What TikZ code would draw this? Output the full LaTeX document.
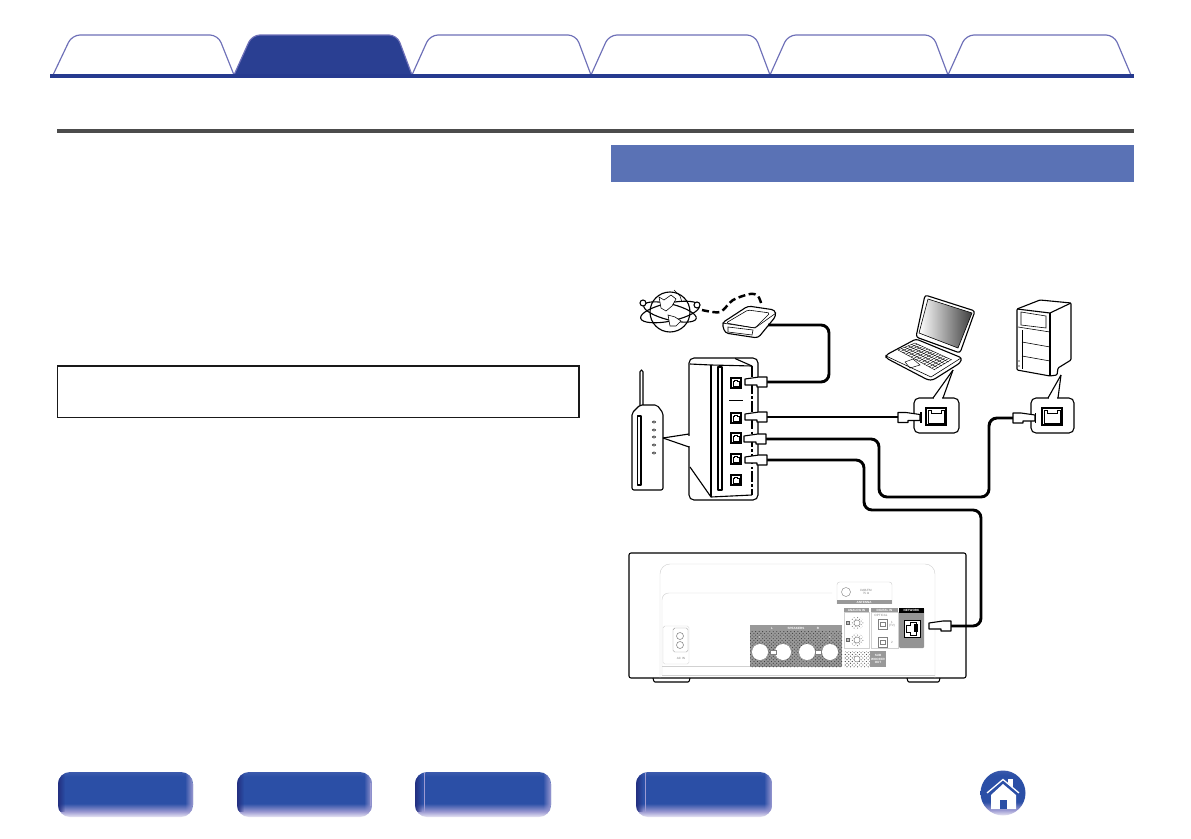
\documentclass[tikz,border=0pt]{standalone}
\usepackage{fontspec}
\setmainfont{Liberation Sans}
\usetikzlibrary{calc,patterns,fadings}
\definecolor{tabline}{HTML}{6E70B8}
\definecolor{tabblue}{HTML}{2A3F92}
\definecolor{barblue}{HTML}{263A8F}
\definecolor{sectionblue}{HTML}{5A72B5}
\definecolor{pillblue}{HTML}{2B4FA6}
\definecolor{pilldark}{HTML}{232F80}
\definecolor{pillpale}{HTML}{E9E6F4}
\definecolor{pilledge}{HTML}{9C9AD2}
\pgfdeclareverticalshading{pillshade}{100bp}{
  color(0bp)=(pillpale); color(25bp)=(pillpale); color(31bp)=(pilledge); color(40bp)=(pillblue); color(70bp)=(pillblue); color(75bp)=(pillblue!85!pilledge); color(100bp)=(pillblue!85!pilledge)}
\tikzset{
  tabshape/.style={draw=tabline, line width=1pt, line join=round},
  netcable/.style={line width=2.5pt, rounded corners=2.4mm},
  outline/.style={line width=0.95pt, line join=round},
  rearline/.style={draw=black!18, line width=0.4pt},
  rearlabel/.style={font=\fontsize{2.6pt}{2.9pt}\selectfont\bfseries, text=white, inner sep=0pt, align=center},
  reargrey/.style={font=\fontsize{2.6pt}{2.9pt}\selectfont, text=black!50, inner sep=0pt, align=center},
  speakerdots/.style={pattern=crosshatch dots, pattern color=black!75}
}
% plug with its cable end on the right at (x,y)
\def\netplug(#1,#2){\draw[outline, fill=white, shift={(#1,#2)}] (-22,-3) -- (-8,-5) -- (0,-5) -- (0,5) -- (-10,5) -- (-10,3) -- (-22,3) -- cycle;}
% same plug, cable end on the left
\def\netplugleft(#1,#2){\draw[outline, fill=white, shift={(#1,#2)}] (22,-3) -- (8,-5) -- (0,-5) -- (0,5) -- (10,5) -- (10,3) -- (22,3) -- cycle;}
% small socket of the router
\def\routerport(#1,#2){\draw[line width=1.1pt] (#1-5,#2-5) rectangle (#1+5,#2+5);
  \draw[line width=0.3pt] (#1-3.3,#2+3.3) -- (#1-3.3,#2-1.5) -- (#1-1.5,#2-1.5) -- (#1-1.5,#2-3.3) -- (#1+1.5,#2-3.3) -- (#1+1.5,#2-1.5) -- (#1+3.3,#2-1.5) -- (#1+3.3,#2+3.3) -- cycle;}
% big socket inside a callout
\def\bigjack(#1,#2){\draw[line width=0.9pt, fill=white] (#1,#2) rectangle (#1+20,#2+17);
  \draw[line width=0.5pt] (#1+2,#2+15) -- (#1+2,#2+2) -- (#1+5,#2+2) -- (#1+5,#2+5) -- (#1+15,#2+5) -- (#1+15,#2+2) -- (#1+18,#2+2) -- (#1+18,#2+15) -- cycle;}
% bottom button
\def\pillbutton(#1,#2){\begin{scope}
    \path[clip, rounded corners=3.6mm] (#1,772) rectangle (#2,817);
    \shade[shading=pillshade] (#1,772) rectangle (#2,817);
    \fill[pilldark, path fading=east] (#1,772) rectangle (#1+7,812);
    \fill[pilledge, path fading=west] (#2-8,772) rectangle (#2,812);
  \end{scope}}

\begin{document}
\begin{tikzpicture}[x=0.03cm,y=-0.03cm]
	%%%%% PAGE %%%%%
	\useasboundingbox (0,0) rectangle (1191,839);
	\fill[white] (0,0) rectangle (1191,839);

	\draw[tabshape] (53,75) [rounded corners=2.4mm] -- (72,35) -- (218,35) [sharp corners] -- (234,75);
	\draw[tabshape, fill=tabblue] (234,75) [rounded corners=2.4mm] -- (252,35) -- (397,35) [sharp corners] -- (412,75);
	\draw[tabshape] (412,75) [rounded corners=2.4mm] -- (430,35) -- (576,35) [sharp corners] -- (591,75);
	\draw[tabshape] (591,75) [rounded corners=2.4mm] -- (609,35) -- (755,35) [sharp corners] -- (770,75);
	\draw[tabshape] (770,75) [rounded corners=2.4mm] -- (788,35) -- (933,35) [sharp corners] -- (948,75);
	\draw[tabshape] (948,75) [rounded corners=2.4mm] -- (966,35) -- (1114,35) [sharp corners] -- (1131,75);
	\fill[barblue] (50,74) rectangle (1134,78);

	\fill[black!70] (57,129) rectangle (1134,133);
	\fill[sectionblue] (611,145) rectangle (1134,182);

	\draw[line width=0.8pt, black!90] (57.5,366) rectangle (579,417);
	\fill[black!90] (57,365) rectangle (580,366.5);
	\fill[black!90] (578,365) rectangle (580,417);

	%%%%% BUTTONS %%%%%
	\pillbutton(58,193)
	\pillbutton(237,372)
	\pillbutton(415,551)
	\pillbutton(636,772)
	\draw[pilledge, line width=0.4pt] (370,783) -- (370,806);
	\draw[pilledge, line width=0.4pt] (424,773) -- (424,812);
	\draw[pilledge, line width=0.4pt] (645,773) -- (645,812);

	\shade[shading=pillshade] (1003,793) circle (22.5);
	\fill[white] (1008,779) rectangle (1013,787);
	\draw[pillblue, line width=2.4pt] (985,796) -- (1003,781) -- (1021,796);
	\draw[white, line width=1.1pt] (987,793) -- (1003,779.5) -- (1019,793);
	\fill[white] (1003,784) -- (1016,795) -- (1016,809) -- (991,809) -- (991,795) -- cycle;
	\fill[pillblue] (1000,800) rectangle (1007,809);

	%%%%% INTERNET AND MODEM %%%%%
	\draw[outline] (670,312) circle (20);
	\draw[outline, rotate around={12:(670,312)}] (670,312) ellipse (30 and 9);
	\draw[outline, rotate around={-14:(670,312)}] (670,312) ellipse (27 and 8);
	\draw[outline, fill=white] (643,303) circle (3);
	\draw[outline, fill=white] (697,305) circle (3);
	\draw[line width=0.5pt, fill=white] (659,297) -- (664,300) -- (671,295) -- (676,299) -- (672,306) -- (666,311) -- (661,308) -- cycle;
	\draw[line width=0.5pt, fill=white] (668,315) -- (675,317) -- (681,321) -- (676,326) -- (670,326) -- cycle;
	\draw[line width=0.5pt] (674,290) -- (680,296) -- (682,302);

	\draw[line width=2.1pt, dash pattern=on 6pt off 3pt] plot[smooth] coordinates {(702,310) (720,312) (733,300) (750,294) (758,296) (762,306)};
	\draw[outline, fill=white, rounded corners=1mm] (722,323) -- (748,306) -- (775,310) -- (776,316) -- (758,338) -- (725,333) -- cycle;
	\draw[line width=0.5pt, rounded corners=0.5mm] (726,323) -- (748,310) -- (770,313) -- (755,328) -- cycle;
	\draw[line width=0.5pt] (728,327) -- (753,330) -- (752,335) -- (728,332) -- cycle;
	\draw[line width=0.5pt] (722,323) -- (755,328) -- (776,313);
	\coordinate (modemport) at (768,325);

	%%%%% ROUTER %%%%%
	\draw[outline, fill=white, rounded corners=0.5mm] (640,408) -- (640,370) -- (643,370) -- (643,408);
	\draw[outline, fill=white, rounded corners=0.6mm] (632,490) -- (632,413) -- (640,405) -- (657,405) -- (663,413) -- (663,490) -- cycle;
	\draw[outline] (637.5,416) rectangle (641,485);
	\foreach \ledy in {422,430,437,445,453}
		\draw[line width=0.4pt, fill=black!15] (654,\ledy) ellipse (1.8 and 1.2);

	\draw[outline, fill=white, rounded corners=1.5mm] (689,358) rectangle (758,500);
	\fill[white] (687.5,436) rectangle (691,446);
	\draw[outline] (663,438) -- (689,434);
	\draw[outline] (663,438) -- (689,447);
	\draw[outline] (690,364) -- (711,365) -- (752,366);
	\draw[outline] (735,358.5) -- (752,366);
	\draw[outline] (711,365) -- (711,497);
	\draw[outline] (690,467) -- (711,497) -- (752,495);
	\draw[outline] (718,367) rectangle (722,490);
	\draw[line width=0.6pt] (729,400) -- (743,400);
	\draw[outline, dash pattern=on 9pt off 2pt on 2pt off 2pt] (752,366) -- (752,495);
	\routerport(736,383)
	\routerport(736,418)
	\routerport(736,438)
	\routerport(736,459)
	\routerport(736,480)

	%%%%% LAPTOP %%%%%
	\draw[outline, fill=white, rounded corners=0.8mm] (925,295) -- (975,311) -- (960,353) -- (916,337) -- cycle;
	\shade[left color=white, right color=black!75] (928,299) -- (972,313) -- (958,348) -- (919,333) -- cycle;
	\draw[line width=0.5pt] (928,299) -- (972,313) -- (958,348) -- (919,333) -- cycle;
	\draw[outline, fill=white, rounded corners=0.8mm] (916,339) -- (962,358) -- (960,363) -- (933,380) -- (928,380) -- (886,358) -- (886,355) -- cycle;
	\draw[line width=0.5pt] (886,356) -- (931,377) -- (961,358);
	\coordinate (keya) at (898,350);
	\coordinate (keyb) at (915,343);
	\coordinate (keyc) at (952,360);
	\coordinate (keyd) at (935,370);
	\foreach \keyt in {0,0.07,...,1.01}
		\draw[line width=0.35pt] ($(keya)!\keyt!(keyd)$) -- ($(keyb)!\keyt!(keyc)$);
	\foreach \keyt in {0,0.2,...,1.01}
		\draw[line width=0.35pt] ($(keya)!\keyt!(keyb)$) -- ($(keyd)!\keyt!(keyc)$);
	\draw[line width=0.4pt] (905,362) -- (913,359) -- (920,365) -- (910,368) -- cycle;

	\draw[outline, fill=white, rounded corners=1.5mm] (914,398) rectangle (959,433);
	\fill[white] (934,396) rectangle (942,400);
	\draw[outline] (953,370) -- (933,398);
	\draw[outline] (953,370) -- (943,398);
	\bigjack(926,408)

	%%%%% NAS %%%%%
	\draw[outline, fill=white, rounded corners=0.3mm] (1017,309) -- (1040,300) -- (1071,303) -- (1071,360) -- (1058,368) -- (1057,375) -- (1050,376) -- (1017,370) -- cycle;
	\draw[outline] (1017,309) -- (1050,313) -- (1071,303);
	\draw[outline] (1050,313) -- (1050,376);
	\draw[line width=0.5pt] (1021,312) -- (1046,316) -- (1046,328) -- (1021,325) -- cycle;
	\draw[line width=0.5pt] (1018,327) -- (1050,332);
	\draw[line width=0.5pt] (1022,330) -- (1022,369);
	\draw[line width=0.5pt] (1022,342) -- (1050,347);
	\draw[line width=0.5pt] (1022,356) -- (1050,361);
	\fill[black!60] (1019,361) circle (0.8);
	\fill[black!60] (1019,366) circle (0.8);

	\draw[outline, fill=white, rounded corners=1.5mm] (1031,398) rectangle (1074,433);
	\fill[white] (1049,396) rectangle (1057,400);
	\draw[outline] (1061,375) -- (1048,398);
	\draw[outline] (1061,375) -- (1058,398);
	\bigjack(1042,408)

	%%%%% REAR PANEL %%%%%
	\draw[line width=0.9pt, fill=white, rounded corners=0.6mm] (629,553) rectangle (966,678);
	\draw[line width=0.9pt, rounded corners=0.3mm] (653,678) -- (654,682) -- (689,682) -- (690,678);
	\draw[line width=0.9pt, rounded corners=0.3mm] (907,678) -- (908,682) -- (939,682) -- (940,678);

	\draw[rearline, rounded corners=3mm] (660,678) -- (660,564) -- (935,564) -- (935,678);
	\draw[rearline, rounded corners=2mm] (662,675) -- (662,593) -- (832,593);
	\draw[rearline] (662,666) -- (750,666);
	\draw[rearline] (662,675) -- (935,675);

	\draw[rearline, rounded corners=0.5mm] (663,626) rectangle (689,664);
	\draw[rearline, draw=black!40, rounded corners=0.5mm] (673,628) rectangle (688,652);
	\draw[draw=black!45, line width=0.5pt] (680,636) circle (3.5);
	\draw[draw=black!45, line width=0.5pt] (680,645) circle (3.5);
	\node[reargrey] (acin) at (681,658) {AC IN};

	\fill[black!40] (750,625) rectangle (842,667);
	\fill[white, speakerdots] (750,631) rectangle (842,667);
	\fill[black!40] (750,625) rectangle (842,631);
	\node[rearlabel] (speakerslabel) at (796,628) {SPEAKERS};
	\node[rearlabel] (speakersl) at (772,628) {L};
	\node[rearlabel] (speakersr) at (818,628) {R};
	\foreach \spkx in {760,783,807,830}
		\fill[white] (\spkx,652) circle (8);
	\foreach \boxx in {773,818}
		\draw[black!50, fill=white, line width=0.4pt] (\boxx-3,650) rectangle (\boxx+3,654);
	\node[rearlabel] (speakerplusa) at (760,638) {+};
	\node[rearlabel] (speakerminusa) at (783,638) {−};
	\node[rearlabel] (speakerminusb) at (807,638) {−};
	\node[rearlabel] (speakerplusb) at (830,638) {+};

	\draw[rearline, rounded corners=0.8mm] (837,604) -- (837,582) -- (892,582) -- (892,604);
	\fill[black!40] (837,600) rectangle (892,604);
	\node[rearlabel] (antennalabel) at (864,602) {ANTENNA};
	\draw[black!45, line width=0.4pt] (846,592) circle (4.5);
	\node[reargrey] (antennaohm) at (866,592) {DAB/FM\\75 Ω};

	\fill[black!40] (844,608) rectangle (869,612);
	\node[rearlabel] (analoglabel) at (856.5,610) {ANALOG IN};
	\draw[rearline] (844,612) rectangle (869,648);
	\foreach \anay in {623,640} {
		\fill[white, pattern=crosshatch dots, pattern color=black!50] (857,\anay) circle (6.5);
		\draw[black!50, fill=white, line width=0.4pt] (857,\anay) circle (3);
		\draw[black!60, fill=black!25, line width=0.3pt] (846.5,\anay-1.5) rectangle (849.5,\anay+1.5);
	}

	\fill[black!40] (871,608) rectangle (898,612);
	\node[rearlabel] (digitallabel) at (884.5,610) {DIGITAL IN};
	\draw[rearline] (871,612) rectangle (898,648);
	\node[reargrey] (opticallabel) at (881,615.5) {OPTICAL};
	\foreach \opty in {624,642} {
		\draw[black!50, line width=0.4pt] (878,\opty-5) rectangle (887,\opty+5);
		\draw[black!50, line width=0.4pt] (880,\opty-2) rectangle (885,\opty+2);
	}
	\node[reargrey] (opticalone) at (892,624) {1\\(TV)};
	\node[reargrey] (opticaltwo) at (892,642) {2};

	\fill[black!42, rounded corners=0.3mm] (899,608) rectangle (924,648);
	\fill[black] (899,608) rectangle (924,612.5);
	\node[rearlabel] (networklabel) at (911.5,610.2) {NETWORK};
	\draw[line width=0.6pt, fill=white] (904,620) rectangle (920,637);
	\draw[line width=0.6pt] (906,625) -- (910,625) -- (910,622) -- (916,622) -- (916,635) -- (910,635) -- (910,632) -- (906,632) -- cycle;
	\fill[black] (914,624) rectangle (918,632);

	\fill[white, speakerdots] (844,651) rectangle (870,667);
	\draw[black!50, fill=white, line width=0.4pt] (857,659) circle (3);
	\fill[black!40] (870,651) rectangle (886,667);
	\node[rearlabel] (subwooferlabel) at (878,659) {SUB\\WOOFER\\OUT};

	%%%%% CABLES %%%%%
	\coordinate (routerone) at (767,382);
	\coordinate (routertwo) at (767,417);
	\coordinate (routerthree) at (766,439);
	\coordinate (routerfour) at (767,460);
	\coordinate (laptopplug) at (898,417);
	\coordinate (nasplug) at (1013,418);
	\coordinate (rearplug) at (951,626);

	\draw[netcable] (modemport) -- (829,325) -- (829,382) -- (routerone);
	\draw[netcable] (routertwo) -- (laptopplug);
	\draw[netcable] (routerthree) -- (879,439) -- (879,497) -- (989,497) -- (989,418) -- (nasplug);
	\draw[netcable] (routerfour) -- (864,460) -- (864,510) -- (981,510) -- (981,626) -- (rearplug);

	\netplug(767,382)
	\netplug(767,417)
	\netplug(766,439)
	\netplug(767,460)
	\netplugleft(898,417.5)
	\netplugleft(1013,418)
	\netplug(951,626)
	\fill[black] (920,412) rectangle (921.5,423);
	\fill[black] (1034.5,413) rectangle (1036,423);
\end{tikzpicture}
\end{document}
